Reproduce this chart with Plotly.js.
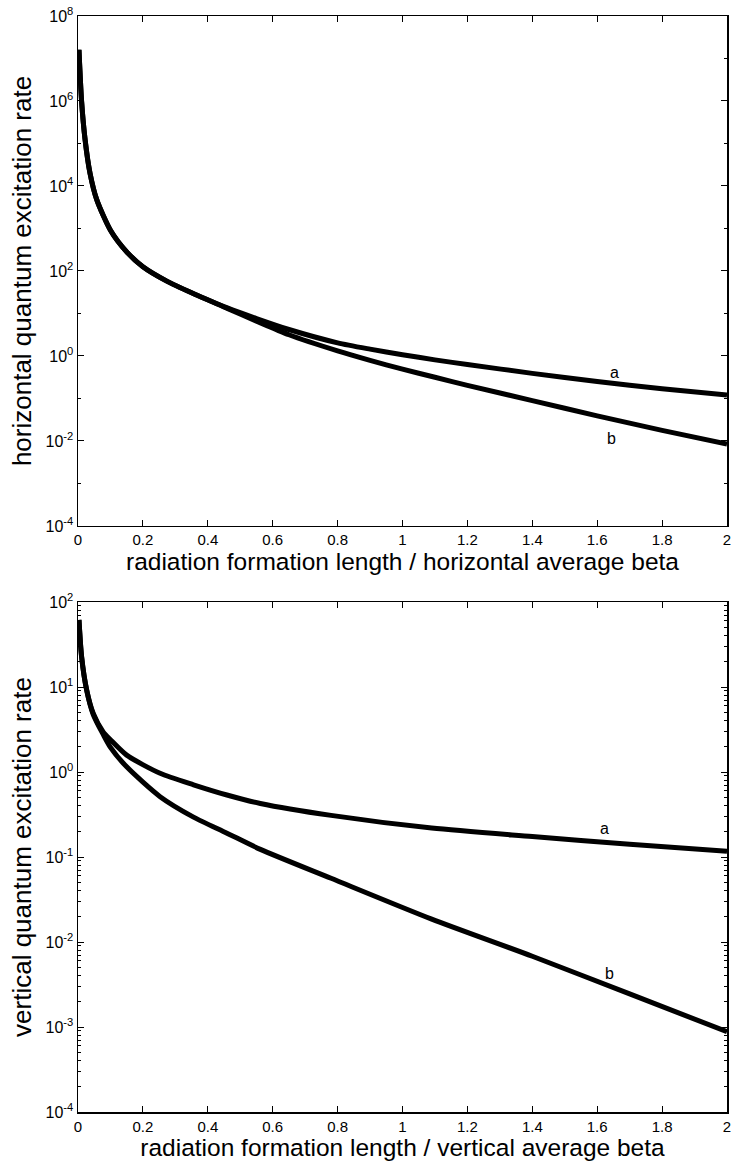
<!DOCTYPE html>
<html>
<head>
<meta charset="utf-8">
<script src="https://cdn.plot.ly/plotly-3.0.1.min.js"></script>
<style>html,body{margin:0;padding:0;background:#fff;}#chart{width:732px;height:1167px;}</style>
</head>
<body>
<div id="chart"></div>
<script>
// ---- Top panel: horizontal quantum excitation rate ----
const xTop = [0.003, 0.011, 0.022, 0.037, 0.058, 0.1, 0.15, 0.2, 0.275, 0.355, 0.46, 0.55, 0.65, 0.8, 0.9, 1.0, 1.1, 1.2, 1.4, 1.6, 1.8, 2.0];
const topA = [1.6e7, 1.0e6, 1.2e5, 2.0e4, 4.7e3, 910, 282, 126, 57, 29.5, 13.5, 7.6, 4.2, 2.04, 1.45, 1.07, 0.81, 0.63, 0.39, 0.25, 0.17, 0.12];
const topB = [1.6e7, 1.0e6, 1.2e5, 2.0e4, 4.7e3, 910, 282, 126, 57, 29.5, 13.2, 6.6, 3.16, 1.32, 0.79, 0.49, 0.316, 0.204, 0.089, 0.039, 0.0178, 0.0085];

// ---- Bottom panel: vertical quantum excitation rate ----
const xBot = [0.003, 0.011, 0.027, 0.047, 0.078, 0.1, 0.15, 0.253, 0.356, 0.459, 0.562, 0.78, 1.09, 1.4, 1.7, 2.0];
const botA = [61.7, 22.9, 9.12, 4.9, 2.95, 2.4, 1.58, 0.966, 0.708, 0.537, 0.427, 0.309, 0.219, 0.174, 0.141, 0.117];
const botB = [61.7, 22.9, 9.12, 4.75, 2.75, 1.95, 1.15, 0.513, 0.295, 0.191, 0.123, 0.0562, 0.0186, 0.0068, 0.00245, 0.00088];

// tick labels
const xTickVals = [0, 0.2, 0.4, 0.6, 0.8, 1, 1.2, 1.4, 1.6, 1.8, 2];
const xTickText = ["0", "0.2", "0.4", "0.6", "0.8", "1", "1.2", "1.4", "1.6", "1.8", "2"];
const topExp = [-4, -2, 0, 2, 4, 6, 8];
const botExp = [-4, -3, -2, -1, 0, 1, 2];

// curve labels [text, x, log10(y)]
const labelsTop = [["a", 1.654, -0.40], ["b", 1.645, -1.95]];
const labelsBot = [["a", 1.623, -0.66], ["b", 1.639, -2.365]];

const FONT = "Liberation Sans, Arial, Helvetica, sans-serif";
const pow = e => "10<sup>" + e + "</sup>";

const topMinor = [];
for (let e = -3; e <= 7; e += 2) topMinor.push(Math.pow(10, e));
const botMinor = [];
for (let e = -4; e < 2; e++) for (let m = 2; m <= 9; m++) botMinor.push(m * Math.pow(10, e));

const lineStyle = {color: "#000", width: 5, shape: "spline", smoothing: 0.7};
const traces = [
  {x: xTop, y: topA, mode: "lines", line: lineStyle, xaxis: "x", yaxis: "y", name: "a", hoverinfo: "none"},
  {x: xTop, y: topB, mode: "lines", line: lineStyle, xaxis: "x", yaxis: "y", name: "b", hoverinfo: "none"},
  {x: xBot, y: botA, mode: "lines", line: lineStyle, xaxis: "x2", yaxis: "y2", name: "a", hoverinfo: "none"},
  {x: xBot, y: botB, mode: "lines", line: lineStyle, xaxis: "x2", yaxis: "y2", name: "b", hoverinfo: "none"}
];

const axCommon = {
  showline: true, linecolor: "#000", linewidth: 1.5, mirror: "allticks",
  ticks: "inside", ticklen: 6, tickwidth: 1, tickcolor: "#000",
  showgrid: false, zeroline: false, automargin: false,
  tickfont: {family: FONT, size: 15, color: "#000"}
};
const xAx = (anchor, title) => Object.assign({}, axCommon, {
  anchor: anchor, range: [0, 2], tickmode: "array", tickvals: xTickVals, ticktext: xTickText,
  title: {text: title, font: {family: FONT, size: 24.5, color: "#000"}, standoff: 4}
});
const yAx = (anchor, domain, range, exps, minorVals, title) => Object.assign({}, axCommon, {
  anchor: anchor, domain: domain, type: "log", range: range,
  tickmode: "array", tickvals: exps.map(e => Math.pow(10, e)), ticktext: exps.map(pow),
  tickfont: {family: FONT, size: 16, color: "#000"},
  minor: {tickmode: "array", tickvals: minorVals, ticks: "inside", ticklen: 3, tickcolor: "#000", showgrid: false},
  title: {text: title, font: {family: FONT, size: 26, color: "#000"}, standoff: 6}
});

const annotations = [];
labelsTop.forEach(l => annotations.push({xref: "x", yref: "y", x: l[1], y: l[2], text: l[0], showarrow: false, font: {family: FONT, size: 16, color: "#000"}}));
labelsBot.forEach(l => annotations.push({xref: "x2", yref: "y2", x: l[1], y: l[2], text: l[0], showarrow: false, font: {family: FONT, size: 16, color: "#000"}}));

const layout = {
  width: 732, height: 1167,
  margin: {l: 78, r: 5, t: 16, b: 55},
  paper_bgcolor: "#fff", plot_bgcolor: "#fff",
  showlegend: false,
  xaxis: xAx("y", "radiation formation length / horizontal average beta"),
  yaxis: yAx("x", [0.5347, 1], [-4, 8], topExp, topMinor, "horizontal quantum excitation rate"),
  xaxis2: xAx("y2", "radiation formation length / vertical average beta"),
  yaxis2: yAx("x2", [0, 0.4653], [-4, 2], botExp, botMinor, "vertical quantum excitation rate"),
  annotations: annotations
};

Plotly.newPlot("chart", traces, layout, {staticPlot: true, displayModeBar: false});
</script>
</body>
</html>
